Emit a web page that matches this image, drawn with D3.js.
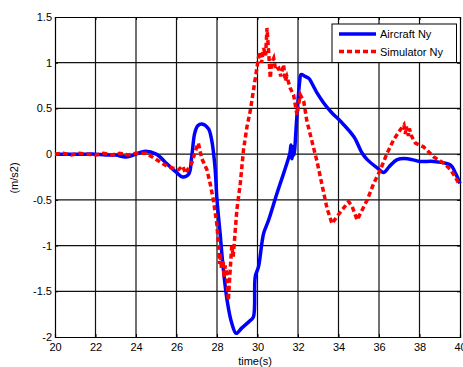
<!DOCTYPE html>
<html>
<head>
<meta charset="utf-8">
<script src="https://cdn.jsdelivr.net/npm/d3@7"></script>
<style>
  body { margin: 0; background: #fff; }
  text { font-family: "Liberation Sans", Arial, sans-serif; }
</style>
</head>
<body>
<div id="chart"></div>
<script>
// time (s) and Ny (m/s2)
var aircraftT = [20, 20.5, 21, 21.5, 22, 22.5, 23, 23.5, 24, 24.4, 25, 25.5, 26, 26.3, 26.6, 26.75, 26.9, 27.05, 27.25, 27.57, 27.74, 27.9, 28.0, 28.15, 28.3, 28.5, 28.73, 28.95, 29.23, 29.64, 29.8, 29.89, 30.05, 30.3, 30.55, 30.96, 31.29, 31.6, 31.65, 31.7, 31.75, 31.8, 31.95, 32.08, 32.15, 32.36, 32.53, 32.6, 32.94, 33.27, 33.68, 34.1, 34.76, 35.17, 35.42, 35.91, 36.24, 36.49, 36.9, 37.4, 38.05, 38.7, 39.54, 39.78, 40];
var aircraftNy = [0, 0, 0, 0, 0, -0.01, -0.01, -0.03, 0, 0.03, 0, -0.1, -0.2, -0.25, -0.22, -0.03, 0.23, 0.31, 0.33, 0.28, 0.15, -0.14, -0.5, -0.86, -1.23, -1.6, -1.85, -1.96, -1.9, -1.82, -1.78, -1.34, -1.23, -0.87, -0.72, -0.43, -0.21, 0.01, 0.1, -0.05, 0.08, -0.01, 0.43, 0.79, 0.87, 0.85, 0.83, 0.81, 0.67, 0.56, 0.45, 0.36, 0.19, 0.01, -0.06, -0.15, -0.2, -0.14, -0.06, -0.05, -0.08, -0.08, -0.12, -0.21, -0.32];

var simT = [20, 20.4, 20.8, 21.2, 21.6, 22, 22.4, 22.8, 23.2, 23.6, 24, 24.5, 24.94, 25.3, 25.6, 26.1, 26.3, 26.45, 26.6, 26.75, 27.0, 27.08, 27.25, 27.5, 27.66, 27.82, 27.99, 28.07, 28.12, 28.15, 28.22, 28.3, 28.35, 28.4, 28.48, 28.56, 28.65, 28.73, 28.8, 28.98, 29.15, 29.31, 29.48, 29.64, 29.97, 30.05, 30.13, 30.2, 30.3, 30.4, 30.47, 30.55, 30.63, 30.7, 30.8, 30.9, 31.05, 31.15, 31.29, 31.37, 31.45, 31.62, 31.78, 31.85, 31.95, 32.11, 32.28, 32.44, 32.69, 32.94, 33.19, 33.43, 33.68, 33.93, 34.5, 34.67, 34.92, 35.42, 35.74, 36.07, 36.4, 36.73, 37.06, 37.23, 37.3, 37.35, 37.45, 37.5, 37.6, 37.8, 38.2, 38.7, 39.2, 39.54, 40];
var simNy = [0, 0.01, -0.01, 0.01, 0, -0.01, 0.01, -0.01, 0.01, -0.01, 0.01, 0.01, -0.05, -0.1, -0.14, -0.17, -0.13, -0.21, -0.15, -0.1, 0.08, 0.12, -0.05, -0.17, -0.32, -0.5, -0.76, -0.98, -1.2, -1.08, -1.25, -1.16, -1.35, -1.22, -1.3, -1.6, -1.27, -1.0, -1.12, -0.61, -0.32, 0.05, 0.3, 0.47, 0.94, 1.06, 1.12, 1.0, 1.16, 1.08, 1.38, 1.12, 0.83, 1.0, 1.05, 0.92, 0.94, 0.85, 0.98, 0.8, 0.85, 0.72, 0.65, 0.56, 0.43, 0.65, 0.58, 0.36, 0.14, -0.08, -0.34, -0.59, -0.76, -0.68, -0.52, -0.57, -0.72, -0.5, -0.32, -0.17, 0.01, 0.16, 0.27, 0.32, 0.22, 0.3, 0.2, 0.28, 0.2, 0.12, 0.08, -0.03, -0.1, -0.17, -0.34];

var xTicks = [20, 22, 24, 26, 28, 30, 32, 34, 36, 38, 40];
var yTicks = [-2, -1.5, -1, -0.5, 0, 0.5, 1, 1.5];
var seriesNames = ["Aircraft Ny", "Simulator Ny"];

var width = 463, height = 367;
var margin = {left: 55, right: 3, top: 17, bottom: 30};

var svg = d3.select("#chart").append("svg")
    .attr("width", width)
    .attr("height", height);

var x = d3.scaleLinear().domain([20, 40]).range([margin.left, width - margin.right]);
var y = d3.scaleLinear().domain([-2, 1.5]).range([height - margin.bottom, margin.top]);

// grid
svg.append("g").selectAll("line.gx")
    .data(xTicks.slice(1, -1))
    .enter().append("line")
    .attr("x1", function(d) { return x(d); })
    .attr("x2", function(d) { return x(d); })
    .attr("y1", y(-2)).attr("y2", y(1.5))
    .attr("stroke", "#111").attr("stroke-width", 1.2);

svg.append("g").selectAll("line.gy")
    .data(yTicks.slice(1, -1))
    .enter().append("line")
    .attr("y1", function(d) { return y(d); })
    .attr("y2", function(d) { return y(d); })
    .attr("x1", x(20)).attr("x2", x(40))
    .attr("stroke", "#111").attr("stroke-width", 1.2);

// axes
svg.append("g")
    .attr("transform", "translate(0," + y(-2) + ")")
    .call(d3.axisBottom(x).tickValues(xTicks).tickSize(-3).tickPadding(6).tickFormat(d3.format("d")));
svg.append("g")
    .attr("transform", "translate(" + x(20) + ",0)")
    .call(d3.axisLeft(y).tickValues(yTicks).tickSize(-3).tickPadding(3).tickFormat(function(d) { return String(d); }));
svg.append("g")
    .attr("transform", "translate(0," + y(1.5) + ")")
    .call(d3.axisTop(x).tickValues(xTicks).tickSize(-3).tickFormat(""));
svg.append("g")
    .attr("transform", "translate(" + x(40) + ",0)")
    .call(d3.axisRight(y).tickValues(yTicks).tickSize(-3).tickFormat(""));

svg.selectAll(".domain").attr("stroke", "#000").attr("stroke-width", 1.2);
svg.selectAll(".tick line").attr("stroke", "#000");
svg.selectAll(".tick text").attr("font-size", 11).attr("fill", "#000")
    .style("font-family", "'Liberation Sans', Arial, sans-serif");

// lines
var smooth = d3.line()
    .curve(d3.curveCatmullRom)
    .x(function(d) { return x(d[0]); })
    .y(function(d) { return y(d[1]); });
var line = d3.line()
    .x(function(d) { return x(d[0]); })
    .y(function(d) { return y(d[1]); });

svg.append("path")
    .datum(d3.zip(aircraftT, aircraftNy))
    .attr("d", smooth)
    .attr("fill", "none")
    .attr("stroke", "#0000ff")
    .attr("stroke-width", 3.5)
    .attr("stroke-linejoin", "round");

svg.append("path")
    .datum(d3.zip(simT, simNy))
    .attr("d", line)
    .attr("fill", "none")
    .attr("stroke", "#ff0000")
    .attr("stroke-width", 3.5)
    .attr("stroke-dasharray", "5,3");

// axis labels
svg.append("text")
    .attr("x", 255).attr("y", 365)
    .attr("text-anchor", "middle")
    .attr("font-size", 11)
    .text("time(s)");

svg.append("text")
    .attr("transform", "translate(18," + 178 + ") rotate(-90)")
    .attr("text-anchor", "middle")
    .attr("font-size", 11)
    .text("(m/s2)");

// legend
var legend = svg.append("g");
legend.append("rect")
    .attr("x", 332).attr("y", 24)
    .attr("width", 124.5).attr("height", 38.5)
    .attr("fill", "#fff").attr("stroke", "#000").attr("stroke-width", 1);

var legendColors = ["#0000ff", "#ff0000"];
var legendDash = [null, "5,3"];
seriesNames.forEach(function(name, i) {
    var ly = 34 + i * 17.5;
    legend.append("line")
        .attr("x1", 339).attr("x2", 376)
        .attr("y1", ly).attr("y2", ly)
        .attr("stroke", legendColors[i])
        .attr("stroke-width", 3.5)
        .attr("stroke-dasharray", legendDash[i]);
    legend.append("text")
        .attr("x", 380).attr("y", ly + 4)
        .attr("font-size", 11)
        .text(name);
});
</script>
</body>
</html>
